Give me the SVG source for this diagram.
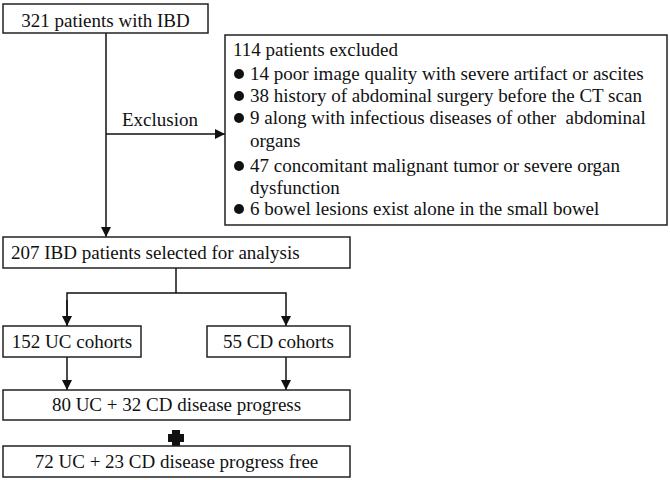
<svg xmlns="http://www.w3.org/2000/svg" width="670" height="480" viewBox="0 0 670 480">
<style>
.box{fill:#fff;stroke:#222;stroke-width:1.5}
text{font-family:'Liberation Serif','Times New Roman','DejaVu Serif',serif;font-size:19px;fill:#111}
.c{text-anchor:middle}
.ln{fill:none;stroke:#111;stroke-width:1.5}
</style>
<defs>
<marker id="ah" markerWidth="10" markerHeight="10" refX="10" refY="5" orient="auto" markerUnits="userSpaceOnUse">
<path d="M0,0 L10,5 L0,10 z" fill="#111"/>
</marker>
</defs>
<rect width="670" height="480" fill="#fff"/>
<g id="connectors">
<line class="ln" x1="106" y1="33" x2="106" y2="237" marker-end="url(#ah)"/>
<line class="ln" x1="106" y1="134" x2="225" y2="134" marker-end="url(#ah)"/>
<text x="122" y="126" font-family="Liberation Serif, serif">Exclusion</text>
<polyline class="ln" points="176,268 176,293"/>
<polyline class="ln" points="67,326 67,293 286,293 286,326" marker-end="url(#ah)"/>
<line class="ln" x1="67" y1="300" x2="67" y2="326" marker-end="url(#ah)"/>
<line class="ln" x1="67" y1="357" x2="67" y2="390" marker-end="url(#ah)"/>
<line class="ln" x1="286" y1="357" x2="286" y2="390" marker-end="url(#ah)"/>
</g>
<g id="n1"><rect class="box" x="3" y="4" width="205" height="29"/><text class="c" x="105.5" y="27">321 patients with IBD</text></g>
<g id="n2"><rect class="box" x="225" y="35" width="442" height="190"/>
<text x="233" y="56">114 patients excluded</text>
<circle cx="239" cy="74" r="5" fill="#111"/><text x="250" y="80">14 poor image quality with severe artifact or ascites</text>
<circle cx="239" cy="96" r="5" fill="#111"/><text x="250" y="102">38 history of abdominal surgery before the CT scan</text>
<circle cx="239" cy="118" r="5" fill="#111"/><text x="250" y="124" xml:space="preserve">9 along with infectious diseases of other  abdominal</text>
<text x="250" y="147">organs</text>
<circle cx="239" cy="166" r="5" fill="#111"/><text x="250" y="172">47 concomitant malignant tumor or severe organ</text>
<text x="250" y="194">dysfunction</text>
<circle cx="239" cy="209" r="5" fill="#111"/><text x="250" y="215">6 bowel lesions exist alone in the small bowel</text>
</g>
<g id="n3"><rect class="box" x="3" y="237" width="347" height="31"/><text x="11" y="259">207 IBD patients selected for analysis</text></g>
<g id="n4"><rect class="box" x="3" y="326" width="138" height="31"/><text class="c" x="72" y="348">152 UC cohorts</text></g>
<g id="n5"><rect class="box" x="207" y="326" width="143" height="31"/><text class="c" x="278.5" y="348">55 CD cohorts</text></g>
<g id="n6"><rect class="box" x="3" y="390" width="347" height="30"/><text class="c" x="176.5" y="411">80 UC + 32 CD disease progress</text></g>
<g id="plus"><path d="M172,430 h8 v4 h4 v8 h-4 v4 h-8 v-4 h-4 v-8 h4 z" fill="#111"/></g>
<g id="n7"><rect class="box" x="3" y="446" width="347" height="31"/><text class="c" x="176.5" y="468">72 UC + 23 CD disease progress free</text></g>
</svg>
